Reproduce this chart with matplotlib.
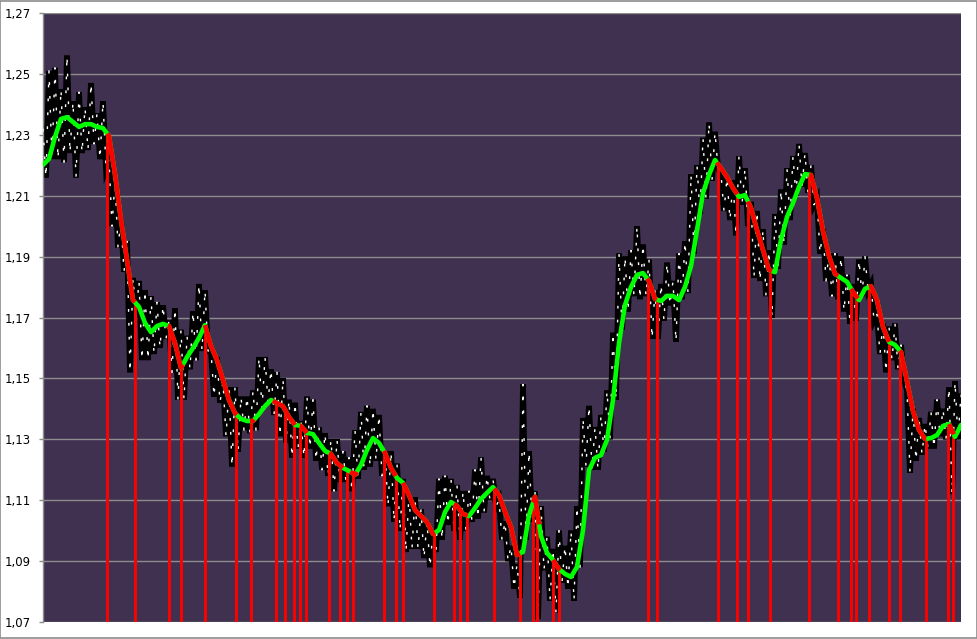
import numpy as np
import matplotlib
matplotlib.use("Agg")
import matplotlib.pyplot as plt
from matplotlib.patches import Rectangle

# ---- data ----
price_high = [1.232, 1.251, 1.252, 1.245, 1.256, 1.241, 1.244, 1.239, 1.247, 1.237,
              1.241, 1.222, 1.215, 1.202, 1.195, 1.183, 1.182, 1.179, 1.177, 1.175,
              1.174, 1.169, 1.173, 1.166, 1.164, 1.172, 1.181, 1.179, 1.159, 1.157,
              1.149, 1.147, 1.147, 1.144, 1.144, 1.146, 1.157, 1.157, 1.153, 1.152,
              1.150, 1.143, 1.142, 1.136, 1.144, 1.143, 1.134, 1.132, 1.130, 1.130,
              1.126, 1.124, 1.133, 1.139, 1.141, 1.140, 1.138, 1.126, 1.126, 1.122,
              1.117, 1.112, 1.111, 1.107, 1.103, 1.100, 1.117, 1.118, 1.117, 1.115,
              1.113, 1.113, 1.120, 1.124, 1.118, 1.117, 1.110, 1.103, 1.095, 1.089,
              1.148, 1.126, 1.113, 1.108, 1.098, 1.094, 1.100, 1.095, 1.100, 1.108,
              1.137, 1.141, 1.134, 1.138, 1.146, 1.165, 1.191, 1.190, 1.192, 1.200,
              1.194, 1.189, 1.179, 1.181, 1.188, 1.182, 1.191, 1.195, 1.217, 1.220,
              1.229, 1.234, 1.231, 1.217, 1.216, 1.215, 1.223, 1.219, 1.208, 1.205,
              1.199, 1.192, 1.204, 1.212, 1.219, 1.223, 1.227, 1.224, 1.220, 1.209,
              1.199, 1.191, 1.191, 1.190, 1.184, 1.181, 1.189, 1.190, 1.181, 1.171,
              1.168, 1.167, 1.168, 1.161, 1.146, 1.140, 1.137, 1.135, 1.139, 1.143,
              1.140, 1.147, 1.149, 1.145]
price_low = [1.216, 1.222, 1.222, 1.221, 1.224, 1.216, 1.224, 1.225, 1.227, 1.222,
             1.219, 1.200, 1.193, 1.185, 1.152, 1.170, 1.156, 1.156, 1.158, 1.160,
             1.163, 1.152, 1.143, 1.143, 1.153, 1.156, 1.159, 1.159, 1.144, 1.142,
             1.131, 1.121, 1.126, 1.133, 1.132, 1.133, 1.140, 1.142, 1.138, 1.131,
             1.129, 1.124, 1.127, 1.124, 1.127, 1.123, 1.120, 1.118, 1.113, 1.116,
             1.116, 1.113, 1.117, 1.120, 1.121, 1.123, 1.118, 1.108, 1.103, 1.100,
             1.093, 1.094, 1.094, 1.091, 1.088, 1.093, 1.097, 1.102, 1.100, 1.097,
             1.100, 1.103, 1.104, 1.106, 1.110, 1.108, 1.097, 1.090, 1.081, 1.078,
             1.097, 1.103, 1.071, 1.087, 1.077, 1.073, 1.083, 1.081, 1.077, 1.088,
             1.121, 1.120, 1.120, 1.126, 1.130, 1.143, 1.166, 1.172, 1.177, 1.176,
             1.177, 1.163, 1.163, 1.169, 1.174, 1.162, 1.176, 1.178, 1.191, 1.204,
             1.209, 1.215, 1.219, 1.205, 1.202, 1.197, 1.207, 1.200, 1.183, 1.182,
             1.177, 1.170, 1.186, 1.194, 1.202, 1.210, 1.213, 1.211, 1.207, 1.191,
             1.182, 1.177, 1.176, 1.172, 1.168, 1.169, 1.177, 1.179, 1.169, 1.158,
             1.152, 1.156, 1.153, 1.150, 1.119, 1.123, 1.125, 1.127, 1.127, 1.131,
             1.130, 1.112, 1.130, 1.130]
moving_avg = [1.2201, 1.2221, 1.2293, 1.2352, 1.2358, 1.2342, 1.2326, 1.2335, 1.2335, 1.2326,
              1.2322, 1.2296, 1.2171, 1.2020, 1.1889, 1.1757, 1.1735, 1.1682, 1.1652, 1.1672,
              1.1679, 1.1672, 1.1616, 1.1534, 1.1570, 1.1600, 1.1633, 1.1675, 1.1606, 1.1560,
              1.1495, 1.1429, 1.1386, 1.1367, 1.1360, 1.1360, 1.1383, 1.1409, 1.1429, 1.1419,
              1.1409, 1.1373, 1.1347, 1.1344, 1.1321, 1.1317, 1.1288, 1.1262, 1.1252, 1.1222,
              1.1206, 1.1196, 1.1183, 1.1216, 1.1265, 1.1304, 1.1288, 1.1255, 1.1206, 1.1173,
              1.1157, 1.1117, 1.1068, 1.1048, 1.1028, 1.0989, 1.1002, 1.1061, 1.1094, 1.1081,
              1.1055, 1.1048, 1.1074, 1.1104, 1.1124, 1.1143, 1.1117, 1.1061, 1.1012, 1.0920,
              1.0930, 1.1051, 1.1111, 1.0982, 1.0927, 1.0904, 1.0874, 1.0858, 1.0848, 1.0881,
              1.1002, 1.1199, 1.1239, 1.1248, 1.1298, 1.1429, 1.1616, 1.1741, 1.1800, 1.1840,
              1.1846, 1.1820, 1.1761, 1.1754, 1.1771, 1.1771, 1.1757, 1.1800, 1.1869, 1.1987,
              1.2109, 1.2168, 1.2217, 1.2191, 1.2161, 1.2125, 1.2096, 1.2102, 1.2060, 1.1987,
              1.1922, 1.1856, 1.1849, 1.1955, 1.2030, 1.2076, 1.2129, 1.2171, 1.2168, 1.2092,
              1.1984, 1.1902, 1.1843, 1.1830, 1.1817, 1.1784, 1.1757, 1.1794, 1.1803, 1.1757,
              1.1669, 1.1620, 1.1610, 1.1587, 1.1491, 1.1393, 1.1331, 1.1301, 1.1304, 1.1314,
              1.1344, 1.1350, 1.1308, 1.1347]
# falling (red) stretches of the moving average, in bar units
red_spans = [(10.7, 15.3), (20.8, 23.3), (27.0, 32.3), (34.5, 35.2), (38.3, 42.0),
             (42.8, 44.0), (47.7, 50.0), (51.2, 52.3), (56.8, 58.8), (60.0, 65.3),
             (68.5, 70.8), (75.2, 79.5), (81.7, 82.7), (85.0, 86.2), (100.7, 102.3),
             (112.3, 115.7), (117.5, 121.5), (127.7, 132.5), (134.7, 135.8),
             (137.7, 141.0), (142.8, 147.2), (151.0, 151.8)]
# signal bars (red vertical lines), in bar units
signal_x = [10.7, 15.3, 21.0, 23.0, 27.0, 32.2, 34.7, 38.8, 40.3, 41.8, 42.8, 43.8,
            47.7, 49.5, 50.7, 51.7, 56.8, 58.8, 60.0, 65.2, 68.5, 69.5, 70.7, 75.2,
            79.5, 81.7, 82.3, 85.0, 86.0, 100.8, 102.3, 112.5, 115.7, 117.5, 121.2,
            127.7, 132.5, 134.7, 135.5, 137.7, 141.0, 142.8, 147.2, 150.8, 151.7]
y_ticks = [1.07, 1.09, 1.11, 1.13, 1.15, 1.17, 1.19, 1.21, 1.23, 1.25, 1.27]
y_labels = ["1,07", "1,09", "1,11", "1,13", "1,15", "1,17", "1,19", "1,21", "1,23", "1,25", "1,27"]

# ---- figure ----
W, H = 978, 639
fig = plt.figure(figsize=(W / 100, H / 100), dpi=100)
fig.patch.set_facecolor("white")
fig.patches.append(Rectangle((0.0005, 0.0008), 0.998, 0.9975, transform=fig.transFigure,
                             fill=False, edgecolor="#8c8c8c", linewidth=1.2))
ax = fig.add_axes([43 / W, (H - 622) / H, 918 / W, 609 / H])
ax.set_facecolor("#403151")

bars = np.arange(len(moving_avg))
px = np.empty(2 * len(price_high))
py = np.empty(2 * len(price_high))
px[0::2] = bars
px[1::2] = bars + 0.5
py[0::2] = price_high
py[1::2] = price_low

ax.plot(px, py, color="black", lw=4.2, solid_joinstyle="miter", zorder=2)
ax.plot(px, py, color="white", lw=1.0, dashes=(2.0, 8.0), zorder=3)

ma = np.array(moving_avg)
sig_top = np.interp(signal_x, bars, ma)
ax.vlines(signal_x, 1.07, sig_top, color="#ff0000", lw=2.1, zorder=4)

ax.plot(bars, ma, color="#00ff00", lw=3.3, solid_capstyle="round", zorder=5)
for a, b in red_spans:
    inside = bars[(bars > a) & (bars < b)]
    xs = np.concatenate([[a], inside, [b]])
    ax.plot(xs, np.interp(xs, bars, ma), color="#ff0000", lw=3.3,
            solid_capstyle="butt", zorder=6)

ax.set_xlim(0, len(moving_avg) - 1)
ax.set_ylim(1.07, 1.27)
ax.set_yticks(y_ticks)
ax.set_yticklabels(y_labels, fontsize=8.5, color="black")
ax.set_xticks([])
ax.grid(axis="y", color="#8c8c8c", lw=1.0, zorder=1)
ax.set_axisbelow(True)
for s in ["top", "right", "bottom"]:
    ax.spines[s].set_visible(False)
ax.spines["left"].set_color("#8c8c8c")
ax.spines["left"].set_linewidth(1.0)
ax.tick_params(axis="y", length=3, width=1, color="#8c8c8c", pad=6)

fig.savefig("out.png", dpi=100)
